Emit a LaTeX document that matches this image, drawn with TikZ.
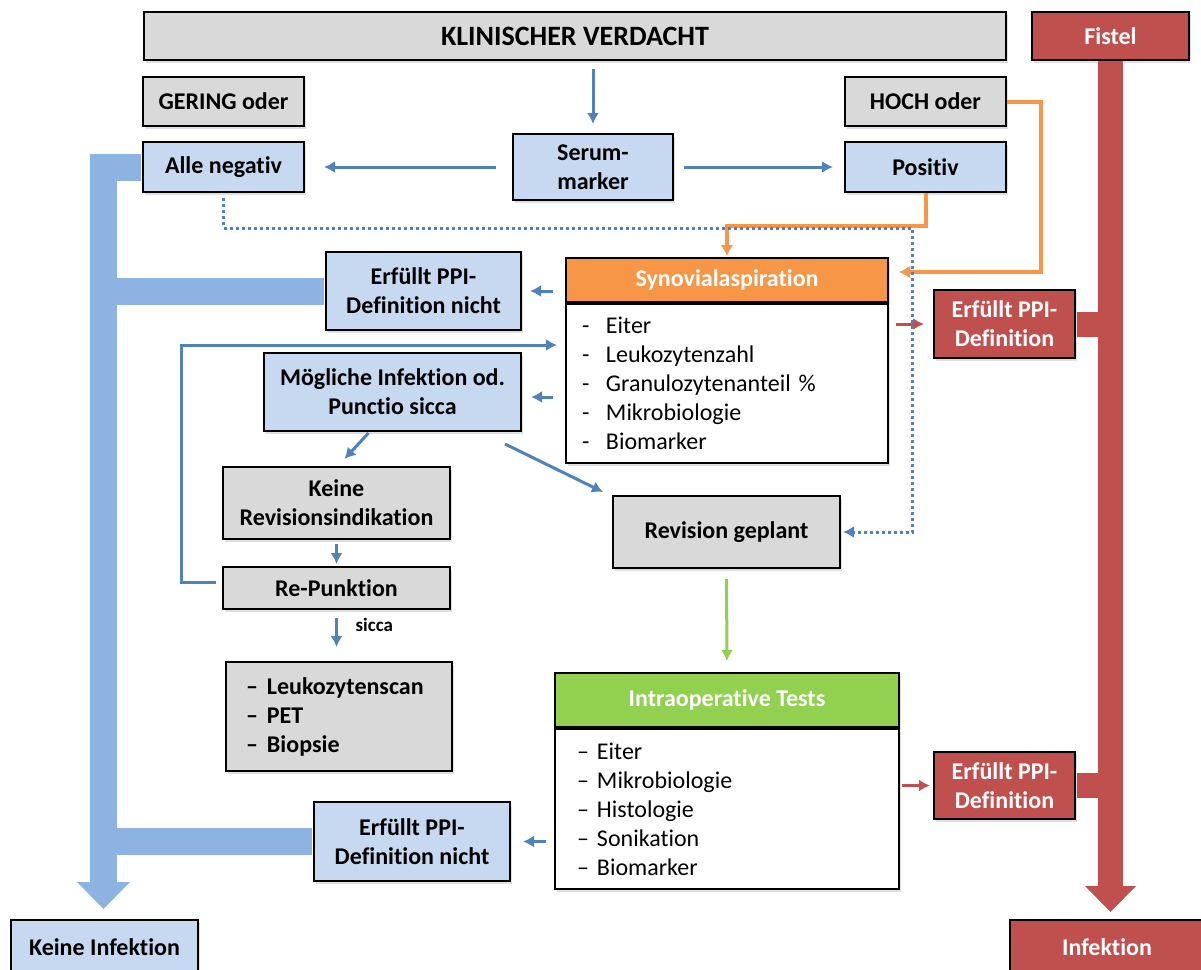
\documentclass[tikz,border=0pt]{standalone}
\usepackage{fontspec}
\setmainfont{Carlito}[Ligatures=NoCommon]
\usetikzlibrary{arrows.meta,positioning,shadows}

\definecolor{boxgray}{HTML}{D9D9D9}
\definecolor{boxblue}{HTML}{C6D9F1}
\definecolor{barblue}{HTML}{8DB3E2}
\definecolor{arrowblue}{HTML}{4F81BD}
\definecolor{boxred}{HTML}{C0504D}
\definecolor{orangehead}{HTML}{F79646}
\definecolor{greenhead}{HTML}{92D050}

\begin{document}
\begin{tikzpicture}[
		x=0.5pt, y=-0.5pt,
		basebox/.style={rectangle, draw=black, line width=1pt, align=center, inner sep=2pt,
			font=\fontsize{12}{14.5}\selectfont\bfseries,
			drop shadow={opacity=0.25, shadow xshift=1pt, shadow yshift=-1.5pt}},
		bluebox/.style={basebox, fill=boxblue},
		graybox/.style={basebox, fill=boxgray},
		redbox/.style={basebox, fill=boxred, text=white},
		listbox/.style={basebox, fill=white, align=left, font=\fontsize{12}{14.5}\selectfont},
		flow/.style={arrowblue, line width=1.5pt, -{Latex[length=5.5pt,width=6pt]}},
		redflow/.style={flow, boxred},
		greenflow/.style={flow, greenhead},
		orangeflow/.style={orangehead, line width=2pt, -{Latex[length=5.5pt,width=6.5pt]}},
		dotflow/.style={flow, dash pattern=on 1.5pt off 1.5pt},
		bluebar/.style={barblue, line width=13.5pt},
		redbar/.style={boxred, line width=12.5pt}
	]
		\useasboundingbox (0,0) rectangle (1201,970);

		\node[graybox, minimum width=431pt, minimum height=24pt, font=\fontsize{14}{16}\selectfont\bfseries] (klin) at (575,36) {KLINISCHER VERDACHT};
		\node[redbox, minimum width=78.5pt, minimum height=24pt] (fistel) at (1110.5,36) {Fistel};
		\node[graybox, minimum width=80.5pt, minimum height=24.5pt] (gering) at (223.5,101.5) {GERING oder};
		\node[graybox, minimum width=80.5pt, minimum height=24.5pt] (hoch) at (925.5,101.5) {HOCH oder};
		\node[bluebox, minimum width=80pt, minimum height=33pt] (serum) at (593,167) {Serum-\\marker};
		\node[bluebox, minimum width=80.5pt, minimum height=25pt] (alleneg) at (223.5,167) {Alle negativ};
		\node[bluebox, minimum width=80.5pt, minimum height=25pt] (positiv) at (925.5,167) {Positiv};

		\node[basebox, fill=orangehead, text=white, minimum width=161pt, minimum height=22pt] (synov) at (727,280) {Synovialaspiration};
		\node[listbox, below=0pt of synov, text width=145pt, inner xsep=8pt, minimum height=79.5pt] (synovlist) {\makebox[12pt][l]{-}Eiter\\\makebox[12pt][l]{-}Leukozytenzahl\\\makebox[12pt][l]{-}Granulozytenanteil~\%\\\makebox[12pt][l]{-}Mikrobiologie\\\makebox[12pt][l]{-}Biomarker};
		\node[bluebox, minimum width=97.5pt, minimum height=39pt] (topnicht) at (423.5,291) {Erfüllt PPI-\\Definition nicht};
		\node[redbox, minimum width=70.5pt, minimum height=34pt] (ppidef1) at (1004.5,324) {Erfüllt PPI-\\Definition};
		\node[bluebox, minimum width=128.5pt, minimum height=39pt] (moegl) at (392.5,392) {Mögliche Infektion od.\\Punctio sicca};
		\node[graybox, minimum width=113.5pt, minimum height=36pt] (keine) at (336.5,503) {Keine\\Revisionsindikation};
		\node[graybox, minimum width=113.5pt, minimum height=21pt] (repunkt) at (336.5,588) {Re-Punktion};
		\node[listbox, fill=boxgray, font=\fontsize{12}{14.5}\selectfont\bfseries, text width=93pt, inner xsep=10pt, minimum height=54.5pt] (scan) at (339,716.5) {\makebox[10.5pt][l]{--}Leukozytenscan\\\makebox[10.5pt][l]{--}PET\\\makebox[10.5pt][l]{--}Biopsie};
		\node[graybox, minimum width=113.5pt, minimum height=36pt] (revision) at (726.5,532) {Revision geplant};

		\node[basebox, fill=greenhead, text=white, minimum width=172pt, minimum height=27pt] (intra) at (727,700) {Intraoperative Tests};
		\node[listbox, below=0pt of intra, text width=150pt, inner xsep=11pt, minimum height=80pt] (intralist) {\makebox[10pt][l]{--}Eiter\\\makebox[10pt][l]{--}Mikrobiologie\\\makebox[10pt][l]{--}Histologie\\\makebox[10pt][l]{--}Sonikation\\\makebox[10pt][l]{--}Biomarker};
		\node[redbox, minimum width=70.5pt, minimum height=33.5pt] (ppidef2) at (1004.5,785.5) {Erfüllt PPI-\\Definition};
		\node[bluebox, minimum width=98pt, minimum height=39.5pt] (botnicht) at (412,841.5) {Erfüllt PPI-\\Definition nicht};
		\node[bluebox, minimum width=93.5pt, minimum height=27.5pt] (keineinf) at (104.5,947.5) {Keine Infektion};
		\node[redbox, minimum width=97pt, minimum height=27.5pt] (infekt) at (1107,947.5) {Infektion};

		% thick bars
		\coordinate (bluetop) at (103.5,153.5);
		\draw[bluebar, -{Triangle[length=13.5pt,width=26.5pt,line width=0pt]}, shorten >=5pt] (bluetop) -- (bluetop |- keineinf.north);
		\draw[bluebar, shorten <=0.5pt] (alleneg.west) -- ([xshift=-6.75pt]alleneg.west -| bluetop);
		\draw[bluebar, shorten <=0.5pt] (topnicht.west) -- (topnicht.west -| bluetop);
		\draw[bluebar, shorten <=0.5pt] (botnicht.west) -- (botnicht.west -| bluetop);
		\draw[redbar, -{Triangle[length=13pt,width=25.5pt,line width=0pt]}, shorten >=3.5pt] (fistel.south) -- (fistel.south |- infekt.north);
		\draw[redbar, shorten <=0.5pt] (ppidef1.east) -- (ppidef1.east -| fistel.south);
		\draw[redbar, shorten <=0.5pt] (ppidef2.east) -- (ppidef2.east -| fistel.south);

		\draw[flow, shorten <=4pt, shorten >=4.5pt] (serum.north |- klin.south) -- (serum.north);
		\draw[flow, shorten <=8pt, shorten >=9.5pt] (serum.west) -- (alleneg.east);
		\draw[flow, shorten <=5pt, shorten >=5.5pt] (serum.east) -- (positiv.west);
		\draw[flow, shorten <=6pt, shorten >=4pt] (topnicht.east -| synov.west) -- (topnicht.east);
		\draw[flow, shorten <=6pt, shorten >=4.5pt] ([yshift=-2.5pt]moegl.east -| synovlist.west) -- ([yshift=-2.5pt]moegl.east);
		\draw[flow] ([xshift=-12pt,yshift=-0.5pt]moegl.south) -- ([xshift=4pt,yshift=3.5pt]keine.north);
		\draw[flow] ([xshift=-8.5pt,yshift=-6pt]moegl.south east) -- ([xshift=-4.5pt,yshift=1.5pt]revision.north west);
		\draw[flow, shorten <=2pt, shorten >=1pt] (keine.south) -- (repunkt.north);
		\draw[flow, shorten <=4pt, shorten >=7pt] (repunkt.south) -- (repunkt.south |- scan.north) node[pos=0.3, right, xshift=5.5pt, font=\fontsize{9.5}{11}\selectfont\bfseries, text=black] {sicca};
		\draw[flow] ([xshift=-3pt,yshift=3pt]repunkt.west) -- ++(-35,0) |- ([xshift=-4pt,yshift=19.25pt]synovlist.west);
		\draw[redflow, shorten <=3.5pt, shorten >=4.5pt] (ppidef1.west -| synovlist.east) -- (ppidef1.west);
		\draw[redflow, shorten <=1pt, shorten >=1.5pt] (ppidef2.west -| intralist.east) -- (ppidef2.west);
		\draw[flow, shorten <=4pt, shorten >=6pt] (botnicht.east -| intralist.west) -- (botnicht.east);
		\draw[greenflow, shorten <=5pt, shorten >=5.5pt] (revision.south) -- (intra.north);

		% orange paths
		\draw[orangeflow, shorten >=0.5pt] (positiv.south) -- ++(0,33) -| (synov.north);
		\draw[orangeflow] (hoch.east) -- ++(34,0) |- ([xshift=5pt,yshift=4pt]synov.east);

		% dotted path
		\coordinate (dotcorner) at (912,228);
		\draw[dotflow, shorten <=2.5pt, shorten >=1pt] (alleneg.south) |- (dotcorner) |- (revision.east);
\end{tikzpicture}
\end{document}
